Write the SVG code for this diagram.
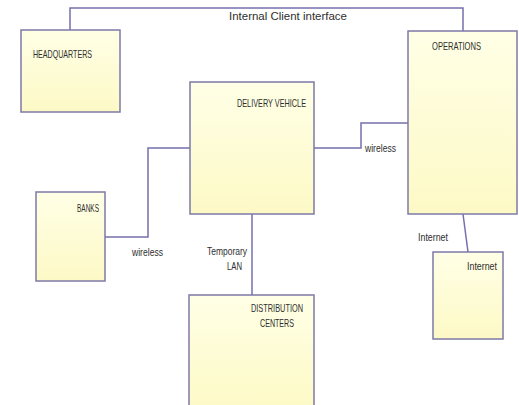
<svg xmlns="http://www.w3.org/2000/svg" width="519" height="405" viewBox="0 0 519 405">
  <style>
    .box { stroke: #7d7aa8; stroke-width: 1.5; fill: url(#boxFill); }
    .link { fill: none; stroke: #7470ac; stroke-width: 1.5; }
    text { font-family: "Liberation Sans", Arial, sans-serif; font-size: 10.5px; fill: #2e2e2e; }
  </style>
  <defs>
    <linearGradient id="boxFill" x1="0" y1="0" x2="0" y2="1">
      <stop offset="0" stop-color="#ffffe6"/>
      <stop offset="1" stop-color="#fdf9c6"/>
    </linearGradient>
  </defs>
  <rect width="519" height="405" fill="#ffffff"/>

  <!-- connectors -->
  <g id="connectors">
    <path class="link" d="M70,30 V8 H463 V31"/>
    <path class="link" d="M314,148 H361 V123 H408"/>
    <path class="link" d="M190,148 H148 V237 H105"/>
    <path class="link" d="M252,214 V295"/>
    <path class="link" d="M463,214 L468,252"/>
    <text x="229" y="20" textLength="118" lengthAdjust="spacingAndGlyphs">Internal Client interface</text>
    <text x="365" y="152" textLength="31" lengthAdjust="spacingAndGlyphs">wireless</text>
    <text x="132" y="256" textLength="31" lengthAdjust="spacingAndGlyphs">wireless</text>
    <text x="207" y="255" textLength="40" lengthAdjust="spacingAndGlyphs">Temporary</text>
    <text x="227" y="270" textLength="15" lengthAdjust="spacingAndGlyphs">LAN</text>
    <text x="418" y="241" textLength="30" lengthAdjust="spacingAndGlyphs">Internet</text>
  </g>

  <g id="headquarters">
    <rect class="box" x="21" y="30" width="99" height="82"/>
    <text x="33" y="58" textLength="59" lengthAdjust="spacingAndGlyphs">HEADQUARTERS</text>
  </g>

  <g id="operations">
    <rect class="box" x="408" y="31" width="109" height="183"/>
    <text x="432" y="50" textLength="49" lengthAdjust="spacingAndGlyphs">OPERATIONS</text>
  </g>

  <g id="delivery-vehicle">
    <rect class="box" x="190" y="82" width="124" height="132"/>
    <text x="237" y="107" textLength="69" lengthAdjust="spacingAndGlyphs">DELIVERY VEHICLE</text>
  </g>

  <g id="banks">
    <rect class="box" x="36" y="192" width="69" height="89"/>
    <text x="77" y="212" textLength="22" lengthAdjust="spacingAndGlyphs">BANKS</text>
  </g>

  <g id="distribution-centers">
    <rect class="box" x="189" y="295" width="125" height="115"/>
    <text x="251" y="312" textLength="52" lengthAdjust="spacingAndGlyphs">DISTRIBUTION</text>
    <text x="260" y="327" textLength="34" lengthAdjust="spacingAndGlyphs">CENTERS</text>
  </g>

  <g id="internet">
    <rect class="box" x="433" y="252" width="70" height="87"/>
    <text x="467" y="270" textLength="30" lengthAdjust="spacingAndGlyphs">Internet</text>
  </g>
</svg>
